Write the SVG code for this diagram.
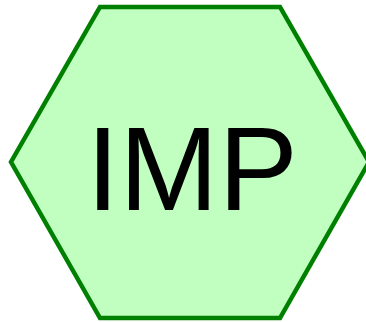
<svg xmlns="http://www.w3.org/2000/svg" width="366" height="322" viewBox="0 0 366 322">
<style>
.hex{fill:#c0ffc0;stroke:#008000;stroke-width:4.5;stroke-linejoin:miter}
.lbl{font-family:"Liberation Sans",Arial,sans-serif;font-size:119px;fill:#000;text-anchor:middle}
</style>
<rect width="366" height="322" fill="#fff"/>
<g id="imp">
<polygon class="hex" points="100,7 280,7 369,162 280,318 100,318 11,162"/>
<text class="lbl" x="192" y="210">IMP</text>
</g>
<g id="connectors"/>
</svg>
